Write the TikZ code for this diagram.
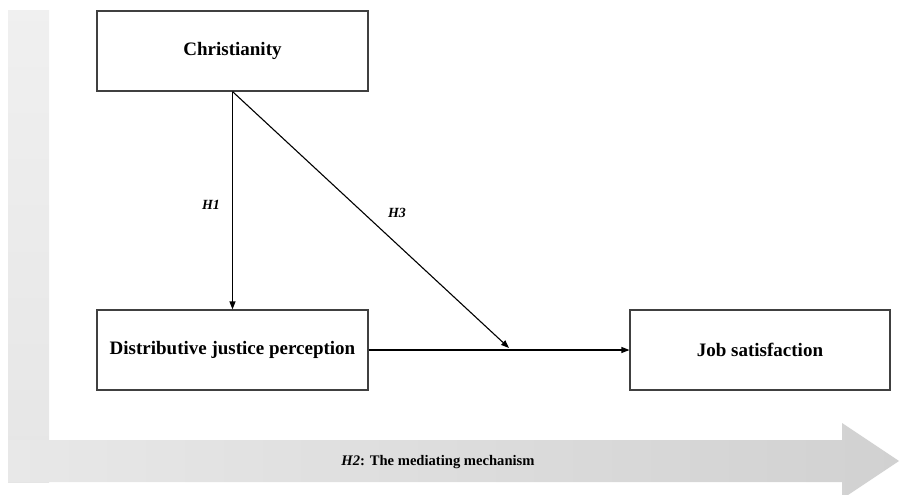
\documentclass[tikz,border=0pt]{standalone}
\usepackage{fontspec}
\setmainfont{Liberation Serif}
\usetikzlibrary{arrows.meta}
\tikzset{
  box/.style={draw=black!75,line width=1.1pt,minimum width=271pt,minimum height=80pt,
    font=\fontsize{19}{22}\selectfont\bfseries},
  link/.style={-{Triangle[length=8pt,width=6pt]},line width=1.1pt},
  hyp/.style={font=\fontsize{14}{16}\selectfont\bfseries\itshape}
}
\begin{document}
\begin{tikzpicture}[x=1pt,y=-1pt]
    \useasboundingbox (0,0) rectangle (900,495);
    % background
    \shade[top color=black!6,bottom color=black!10] (8,11) rectangle (49,482);
    \shade[left color=black!9,right color=black!18]
      (8,440) -- (842,440) -- (842,423) -- (899,461) -- (842,499) -- (842,482) -- (8,482) -- cycle;
    \node [box] (chr) at (232.5,51) {Christianity};
    \node [box] (djp) at (232.5,350) {Distributive justice perception};
    \node [box,minimum width=260pt] (job) at (760,350) {Job satisfaction};
    \coordinate (mid) at (509,348);
    \draw[link] (chr.south) -- (djp.north);
    \draw[link] (chr.south) -- (mid);
    \draw[link] (djp.east) -- (job.west);
    \node [hyp] (h1) at (211,205) {H1};
    \node [hyp] (h3) at (397,213) {H3};
    \node [font=\fontsize{14.6}{17}\selectfont\bfseries] (h2) at (438,462) {\textit{H2}: The mediating mechanism};
  \end{tikzpicture}
\end{document}
